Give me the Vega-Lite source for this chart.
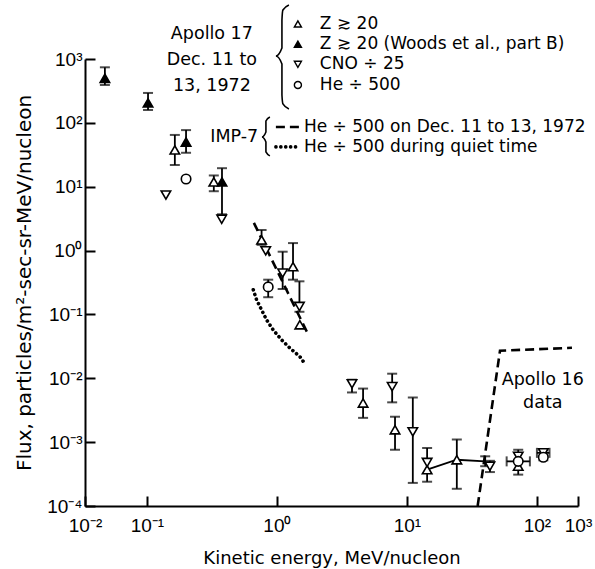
{
  "$schema": "https://vega.github.io/schema/vega-lite/v6.json",
  "width": 493,
  "height": 447,
  "autosize": {"type": "none"},
  "padding": {"left": 85, "top": 59, "right": 17, "bottom": 63},
  "background": "white",
  "config": {
    "view": {"stroke": null},
    "font": "DejaVu Sans",
    "axis": {
      "grid": false,
      "domainColor": "black",
      "domainWidth": 2,
      "tickColor": "black",
      "tickWidth": 2,
      "tickSize": -10,
      "labelFont": "Liberation Sans",
      "labelFontSize": 19,
      "labelColor": "black",
      "labelFlush": false,
      "titleFont": "DejaVu Sans",
      "titleFontWeight": "normal",
      "titleColor": "black"
    }
  },
  "datasets": {
    "points": [
      {"s": "Z20W", "e": 0.0475, "f": 499},
      {"s": "Z20W", "e": 0.102, "f": 205},
      {"s": "Z20W", "e": 0.2, "f": 50},
      {"s": "Z20W", "e": 0.378, "f": 11.9},
      {"s": "Z20", "e": 0.164, "f": 37.7},
      {"s": "Z20", "e": 0.327, "f": 11.9},
      {"s": "Z20", "e": 0.762, "f": 1.47},
      {"s": "Z20", "e": 1.33, "f": 0.56},
      {"s": "Z20", "e": 1.5, "f": 0.069},
      {"s": "Z20", "e": 4.6, "f": 0.0041},
      {"s": "Z20", "e": 8.1, "f": 0.00156},
      {"s": "Z20", "e": 14.3, "f": 0.00037},
      {"s": "Z20", "e": 24.2, "f": 0.00053},
      {"s": "Z20", "e": 71.8, "f": 0.00042},
      {"s": "CNO", "e": 0.14, "f": 7.4},
      {"s": "CNO", "e": 0.376, "f": 3.1},
      {"s": "CNO", "e": 0.82, "f": 0.99},
      {"s": "CNO", "e": 1.107, "f": 0.443},
      {"s": "CNO", "e": 1.49, "f": 0.133},
      {"s": "CNO", "e": 3.78, "f": 0.0082},
      {"s": "CNO", "e": 7.7, "f": 0.0074},
      {"s": "CNO", "e": 11.1, "f": 0.00145},
      {"s": "CNO", "e": 14.3, "f": 0.00048},
      {"s": "CNO", "e": 43.5, "f": 0.00042},
      {"s": "CNO", "e": 71.8, "f": 0.0006},
      {"s": "CNO", "e": 112, "f": 0.00068},
      {"s": "He", "e": 0.2, "f": 13.2},
      {"s": "He", "e": 0.857, "f": 0.27},
      {"s": "He", "e": 71.8, "f": 0.0005},
      {"s": "He", "e": 112, "f": 0.00058}
    ],
    "vbars": [
      {"e": 0.0475, "lo": 392, "hi": 741},
      {"e": 0.102, "lo": 159, "hi": 294},
      {"e": 0.164, "lo": 21.9, "hi": 64.7},
      {"e": 0.2, "lo": 34, "hi": 77},
      {"e": 0.327, "lo": 8.5, "hi": 15},
      {"e": 0.378, "lo": 3.7, "hi": 19.5},
      {"e": 0.762, "lo": 1.23, "hi": 2.1},
      {"e": 0.857, "lo": 0.186, "hi": 0.35},
      {"e": 1.107, "lo": 0.25, "hi": 0.96},
      {"e": 1.33, "lo": 0.35, "hi": 1.31},
      {"e": 1.49, "lo": 0.11, "hi": 0.33},
      {"e": 3.78, "lo": 0.006, "hi": 0.0095},
      {"e": 4.6, "lo": 0.0024, "hi": 0.0069},
      {"e": 7.7, "lo": 0.0042, "hi": 0.0118},
      {"e": 8.1, "lo": 0.00076, "hi": 0.0025},
      {"e": 11.1, "lo": 0.00023, "hi": 0.005},
      {"e": 14.3, "lo": 0.00024, "hi": 0.00081},
      {"e": 24.2, "lo": 0.000186, "hi": 0.0011},
      {"e": 40, "lo": 0.00042, "hi": 0.0006},
      {"e": 43.5, "lo": 0.00034, "hi": 0.00051},
      {"e": 71.8, "lo": 0.00031, "hi": 0.00076},
      {"e": 112, "lo": 0.00052, "hi": 0.00076}
    ],
    "hbars": [
      {"f": 0.0005, "lo": 58.5, "hi": 88.3},
      {"f": 0.00068, "lo": 100, "hi": 125}
    ],
    "lines": [
      {"g": "impdash", "i": 0, "e": 0.665, "f": 2.72},
      {"g": "impdash", "i": 1, "e": 1.7, "f": 0.0534},
      {"g": "legdash", "i": 0, "e": 0.982, "f": 86.3},
      {"g": "legdash", "i": 1, "e": 1.503, "f": 86.3},
      {"g": "a16", "i": 0, "e": 35, "f": 0.0001},
      {"g": "a16", "i": 1, "e": 52, "f": 0.027},
      {"g": "a16", "i": 2, "e": 186, "f": 0.03}
    ],
    "dots": [
      {"g": "impdot", "i": 0, "e": 0.658, "f": 0.243},
      {"g": "impdot", "i": 1, "e": 0.698, "f": 0.169},
      {"g": "impdot", "i": 2, "e": 0.762, "f": 0.118},
      {"g": "impdot", "i": 3, "e": 0.833, "f": 0.082},
      {"g": "impdot", "i": 4, "e": 0.937, "f": 0.057},
      {"g": "impdot", "i": 5, "e": 1.087, "f": 0.04},
      {"g": "impdot", "i": 6, "e": 1.26, "f": 0.0297},
      {"g": "impdot", "i": 7, "e": 1.5, "f": 0.0219},
      {"g": "impdot", "i": 8, "e": 1.64, "f": 0.0169},
      {"g": "legdot", "i": 0, "e": 0.982, "f": 42},
      {"g": "legdot", "i": 1, "e": 1.503, "f": 42}
    ],
    "zline": [
      {"i": 0, "e": 14.3, "f": 0.00037},
      {"i": 1, "e": 24.2, "f": 0.00053},
      {"i": 2, "e": 40, "f": 0.0005}
    ],
    "braces": [
      {"g": "brace1", "i": 0, "e": 1.237, "f": 7000},
      {"g": "brace1", "i": 1, "e": 1.112, "f": 5850},
      {"g": "brace1", "i": 2, "e": 1.093, "f": 4077},
      {"g": "brace1", "i": 3, "e": 1.093, "f": 1486},
      {"g": "brace1", "i": 4, "e": 0.982, "f": 1114},
      {"g": "brace1", "i": 5, "e": 1.093, "f": 835},
      {"g": "brace1", "i": 6, "e": 1.093, "f": 273},
      {"g": "brace1", "i": 7, "e": 1.112, "f": 198},
      {"g": "brace1", "i": 8, "e": 1.237, "f": 165},
      {"g": "brace2", "i": 0, "e": 0.883, "f": 123.6},
      {"g": "brace2", "i": 1, "e": 0.823, "f": 107},
      {"g": "brace2", "i": 2, "e": 0.823, "f": 72},
      {"g": "brace2", "i": 3, "e": 0.767, "f": 60.2},
      {"g": "brace2", "i": 4, "e": 0.823, "f": 50.2},
      {"g": "brace2", "i": 5, "e": 0.823, "f": 35.1},
      {"g": "brace2", "i": 6, "e": 0.883, "f": 30.4}
    ],
    "legsym": [
      {"s": "Z20", "e": 1.45, "f": 3532},
      {"s": "Z20W", "e": 1.45, "f": 1700},
      {"s": "CNO", "e": 1.45, "f": 826},
      {"s": "He", "e": 1.45, "f": 392}
    ],
    "ctext": [
      {"t": "Apollo 17", "e": 0.316, "f": 2461},
      {"t": "Dec. 11 to", "e": 0.316, "f": 965},
      {"t": "13, 1972", "e": 0.316, "f": 378},
      {"t": "IMP-7", "e": 0.47, "f": 60.2},
      {"t": "Apollo 16", "e": 111, "f": 0.0095},
      {"t": "data", "e": 111, "f": 0.00414}
    ],
    "ltext": [
      {"t": "Z ≳ 20", "e": 2.14, "f": 3532},
      {"t": "Z ≳ 20 (Woods et al., part B)", "e": 2.14, "f": 1700},
      {"t": "CNO ÷ 25", "e": 2.14, "f": 826},
      {"t": "He ÷ 500", "e": 2.14, "f": 392}
    ],
    "ltext2": [
      {"t": "He ÷ 500 on Dec. 11 to 13, 1972", "e": 1.613, "f": 86.3},
      {"t": "He ÷ 500 during quiet time", "e": 1.613, "f": 42}
    ]
  },
  "encoding": {
    "x": {
      "field": "e", "type": "quantitative",
      "scale": {"type": "log", "domain": [0.0334, 207], "nice": false},
      "axis": {
        "title": "Kinetic energy, MeV/nucleon",
        "titleFontSize": 18,
        "values": [0.0334, 0.1, 1, 10, 100, 207],
        "labelExpr": "datum.value < 0.05 ? '10⁻²' : datum.value < 0.5 ? '10⁻¹' : datum.value < 5 ? '10⁰' : datum.value < 50 ? '10¹' : datum.value < 150 ? '10²' : '10³'",
        "labelPadding": 20,
        "titlePadding": 14
      }
    },
    "y": {
      "field": "f", "type": "quantitative",
      "scale": {"type": "log", "domain": [0.0001, 1000], "nice": false},
      "axis": {
        "title": "Flux, particles/m²-sec-sr-MeV/nucleon",
        "titleFontSize": 20,
        "values": [0.0001, 0.001, 0.01, 0.1, 1, 10, 100, 1000],
        "labelExpr": "datum.value < 0.0005 ? '10⁻⁴' : datum.value < 0.005 ? '10⁻³' : datum.value < 0.05 ? '10⁻²' : datum.value < 0.5 ? '10⁻¹' : datum.value < 5 ? '10⁰' : datum.value < 50 ? '10¹' : datum.value < 500 ? '10²' : '10³'",
        "labelPadding": 13,
        "titlePadding": 12
      }
    }
  },
  "layer": [
    {
      "data": {"name": "vbars"},
      "mark": {"type": "rule", "color": "black", "strokeWidth": 1.8},
      "encoding": {"y": {"field": "lo", "type": "quantitative"}, "y2": {"field": "hi"}}
    },
    {
      "data": {"name": "vbars"},
      "transform": [{"fold": ["lo", "hi"], "as": ["k", "v"]}],
      "mark": {"type": "tick", "orient": "horizontal", "color": "black", "size": 10, "thickness": 2},
      "encoding": {"y": {"field": "v", "type": "quantitative"}}
    },
    {
      "data": {"name": "hbars"},
      "mark": {"type": "rule", "color": "black", "strokeWidth": 1.8},
      "encoding": {"x": {"field": "lo", "type": "quantitative"}, "x2": {"field": "hi"}}
    },
    {
      "data": {"name": "hbars"},
      "transform": [{"fold": ["lo", "hi"], "as": ["k", "v"]}],
      "mark": {"type": "tick", "orient": "vertical", "color": "black", "size": 10, "thickness": 2},
      "encoding": {"x": {"field": "v", "type": "quantitative"}}
    },
    {
      "data": {"name": "lines"},
      "mark": {"type": "line", "color": "black", "strokeWidth": 2.6, "strokeDash": [9, 5]},
      "encoding": {"detail": {"field": "g"}, "order": {"field": "i"}}
    },
    {
      "data": {"name": "dots"},
      "mark": {"type": "line", "color": "black", "strokeWidth": 3.6, "strokeDash": [0.1, 4.8], "strokeCap": "round"},
      "encoding": {"detail": {"field": "g"}, "order": {"field": "i"}}
    },
    {
      "data": {"name": "zline"},
      "mark": {"type": "line", "color": "black", "strokeWidth": 1.8},
      "encoding": {"order": {"field": "i"}}
    },
    {
      "data": {"name": "braces"},
      "mark": {"type": "line", "color": "black", "strokeWidth": 1.6, "interpolate": "monotone"},
      "encoding": {"detail": {"field": "g"}, "order": {"field": "i"}}
    },
    {
      "data": {"name": "points"},
      "mark": {"type": "point", "filled": true, "stroke": "black", "strokeWidth": 1.6, "size": 90, "opacity": 1},
      "encoding": {
        "shape": {"field": "s", "type": "nominal", "legend": null,
          "scale": {"domain": ["Z20", "Z20W", "CNO", "He"], "range": ["triangle-up", "triangle-up", "triangle-down", "circle"]}},
        "fill": {"field": "s", "type": "nominal", "legend": null,
          "scale": {"domain": ["Z20", "Z20W", "CNO", "He"], "range": ["white", "black", "white", "white"]}}
      }
    },
    {
      "data": {"name": "legsym"},
      "mark": {"type": "point", "filled": true, "stroke": "black", "strokeWidth": 1.4, "size": 50, "opacity": 1},
      "encoding": {
        "shape": {"field": "s", "type": "nominal", "legend": null,
          "scale": {"domain": ["Z20", "Z20W", "CNO", "He"], "range": ["triangle-up", "triangle-up", "triangle-down", "circle"]}},
        "fill": {"field": "s", "type": "nominal", "legend": null,
          "scale": {"domain": ["Z20", "Z20W", "CNO", "He"], "range": ["white", "black", "white", "white"]}}
      }
    },
    {
      "data": {"name": "ctext"},
      "mark": {"type": "text", "align": "center", "baseline": "middle", "font": "DejaVu Sans", "fontSize": 17.5, "color": "black"},
      "encoding": {"text": {"field": "t"}}
    },
    {
      "data": {"name": "ltext"},
      "mark": {"type": "text", "align": "left", "baseline": "middle", "font": "DejaVu Sans", "fontSize": 17, "color": "black"},
      "encoding": {"text": {"field": "t"}}
    },
    {
      "data": {"name": "ltext2"},
      "mark": {"type": "text", "align": "left", "baseline": "middle", "font": "DejaVu Sans", "fontSize": 17, "color": "black"},
      "encoding": {"text": {"field": "t"}}
    }
  ]
}
